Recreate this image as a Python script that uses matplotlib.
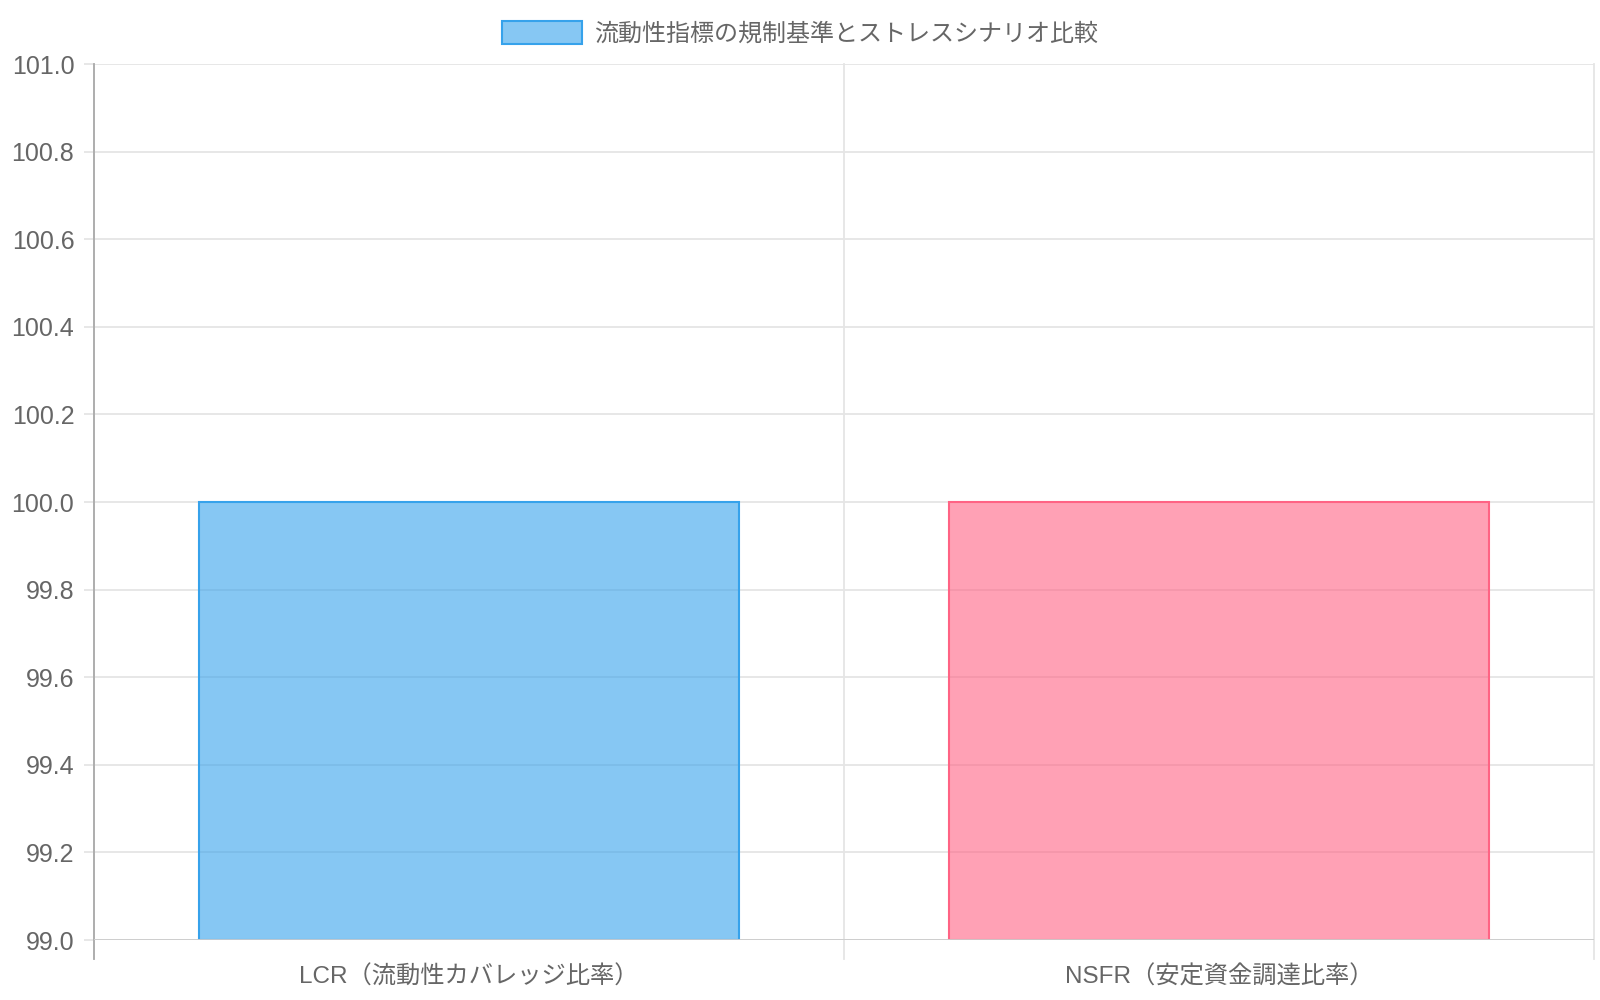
import matplotlib
matplotlib.use("Agg")
import matplotlib.pyplot as plt
from matplotlib.patches import Rectangle

categories = ["LCR（流動性カバレッジ比率）", "NSFR（安定資金調達比率）"]
values = [100.0, 100.0]
series_label = "流動性指標の規制基準とストレスシナリオ比較"
fill_colors = [(54/255, 162/255, 235/255, 0.6), (255/255, 99/255, 132/255, 0.6)]
edge_colors = [(54/255, 162/255, 235/255), (255/255, 99/255, 132/255)]
y_min, y_max, y_step = 99.0, 101.0, 0.2

plt.rcParams['font.family'] = ['Liberation Sans', 'Noto Sans CJK JP', 'DejaVu Sans']
text_color = '#666666'
grid_color = '#e5e5e5'

fig = plt.figure(figsize=(16, 10), dpi=100)
L, R, T, B = 94, 1594, 64, 940
ax = fig.add_axes([L/1600, 1 - B/1000, (R - L)/1600, (B - T)/1000])

n = len(categories)
x = list(range(n))
ax.bar(x, [v - y_min for v in values], bottom=y_min, width=0.72,
       color=fill_colors, edgecolor=edge_colors, linewidth=1.5, zorder=3)

ax.set_xlim(-0.5, n - 0.5)
ax.set_ylim(y_min, y_max)

yt = [round(y_min + i * y_step, 1) for i in range(int(round((y_max - y_min) / y_step)) + 1)]
ax.set_yticks(yt)
ax.set_yticklabels([f"{v:.1f}" for v in yt], fontsize=18, color=text_color)
ax.set_xticks(x)
ax.set_xticklabels(categories, fontsize=17.5, color=text_color)
ax.tick_params(axis='x', length=0, pad=18.5)
ax.tick_params(axis='y', length=7.2, color=grid_color, width=1.3, pad=7)

# grid lines
for v in yt:
    ax.axhline(v, color=grid_color, linewidth=1.3, zorder=0)
ext = (y_max - y_min) * 19 / (B - T)
# vertical category boundaries with tick extending below
for b in [i - 0.5 for i in range(n + 1)]:
    ax.plot([b, b], [y_min - ext, y_max], color=grid_color, linewidth=1.3, zorder=0, clip_on=False)

for s in ax.spines.values():
    s.set_visible(False)
ax.plot([-0.5, -0.5], [y_min - ext, y_max], color='#aaaaaa',
        linewidth=1.3, zorder=4, clip_on=False)
ax.axhline(y_min, color='#cccccc', linewidth=1.3, zorder=4)

# legend
fig.patches.append(Rectangle((502/1600, 1 - 44/1000), 80/1600, 23.5/1000,
                             transform=fig.transFigure, facecolor=fill_colors[0],
                             edgecolor=edge_colors[0], linewidth=1.5))
fig.text(594/1600, 1 - 34/1000, series_label, fontsize=17.3, color=text_color,
         ha='left', va='center')

fig.savefig("out.png", dpi=100, facecolor='white')
